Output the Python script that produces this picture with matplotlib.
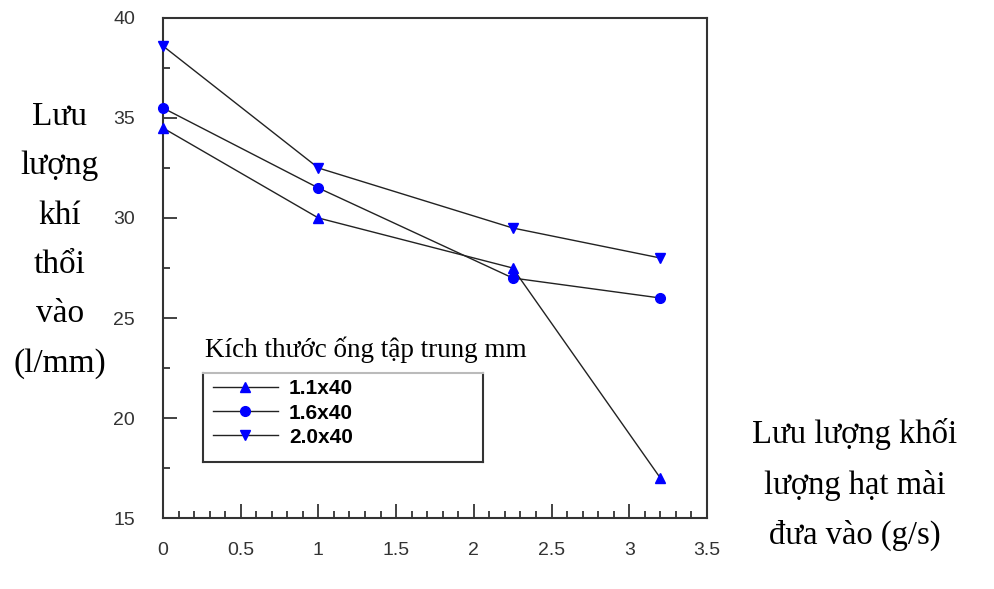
import numpy as np
import matplotlib
matplotlib.use("Agg")
import matplotlib.pyplot as plt
from matplotlib.ticker import MultipleLocator, FuncFormatter
from matplotlib.lines import Line2D

# data
x = [0, 1, 2.25, 3.2]
y_11 = [34.5, 30.0, 27.5, 17.0]
y_16 = [35.5, 31.5, 27.0, 26.0]
y_20 = [38.6, 32.5, 29.5, 28.0]
labels = ['1.1x40', '1.6x40', '2.0x40']

serif = ['Liberation Serif', 'DejaVu Serif']
sans = ['Liberation Sans', 'DejaVu Sans']

fig = plt.figure(figsize=(9.95, 5.89), dpi=100)
ax = fig.add_axes([0.1638, 0.1205, 0.5467, 0.849])

ax.plot(x, y_11, '-', color='#222222', lw=1.0, marker='^', ms=7,
        mfc='blue', mec='blue', label=labels[0], clip_on=False, zorder=3)
ax.plot(x, y_16, '-', color='#222222', lw=1.0, marker='o', ms=7,
        mfc='blue', mec='blue', label=labels[1], clip_on=False, zorder=3)
ax.plot(x, y_20, '-', color='#222222', lw=1.0, marker='v', ms=7,
        mfc='blue', mec='blue', label=labels[2], clip_on=False, zorder=3)

ax.set_xlim(0, 3.5)
ax.set_ylim(15, 40)
ax.xaxis.set_major_locator(MultipleLocator(0.5))
ax.xaxis.set_minor_locator(MultipleLocator(0.1))
ax.yaxis.set_major_locator(MultipleLocator(5))
ax.yaxis.set_minor_locator(MultipleLocator(2.5))
ax.xaxis.set_major_formatter(FuncFormatter(lambda v, p: '%g' % v))
ax.tick_params(which='both', direction='in', top=False, right=False,
               color='#222222', width=1.2)
ax.tick_params(which='major', length=10)
ax.tick_params(which='minor', length=5)
ax.tick_params(axis='x', which='major', pad=17)
ax.tick_params(axis='y', which='major', pad=20)
for t in ax.get_xticklabels() + ax.get_yticklabels():
    t.set_family(sans)
    t.set_fontsize(14)
    t.set_color('#333333')
for s in ax.spines.values():
    s.set_linewidth(1.5)
    s.set_color('#333333')

# legend entries without frame, box drawn around them
leg = fig.legend(loc='upper left', bbox_to_anchor=(0.214, 0.356), frameon=False,
                 prop={'family': sans, 'weight': 'bold', 'size': 15},
                 handlelength=3.1, handletextpad=0.55, numpoints=1,
                 borderpad=0, labelspacing=0.25, borderaxespad=0)
for h in leg.legend_handles:
    h.set_markersize(7)

bx0, bx1, by0, by1 = 0.204, 0.4854, 0.2156, 0.3667
for xs, ys, c in [([bx0, bx0], [by0, by1], '#333333'),
                  ([bx1, bx1], [by0, by1], '#333333'),
                  ([bx0, bx1], [by0, by0], '#333333'),
                  ([bx0, bx1], [by1, by1], '#bbbbbb')]:
    fig.add_artist(Line2D(xs, ys, color=c, lw=1.5, transform=fig.transFigure))

fig.text(0.206, 0.406, 'Kích thước ống tập trung mm', family=serif,
         fontsize=19.5, ha='left', va='center')

fig.text(0.06, 0.592, 'Lưu\nlượng\nkhí\nthổi\nvào\n(l/mm)', family=serif,
         fontsize=24, ha='center', va='center', linespacing=1.8)
fig.text(0.859, 0.177, 'Lưu lượng khối\nlượng hạt mài\nđưa vào (g/s)', family=serif,
         fontsize=23.5, ha='center', va='center', linespacing=1.8)

fig.savefig('out.png', dpi=100)
